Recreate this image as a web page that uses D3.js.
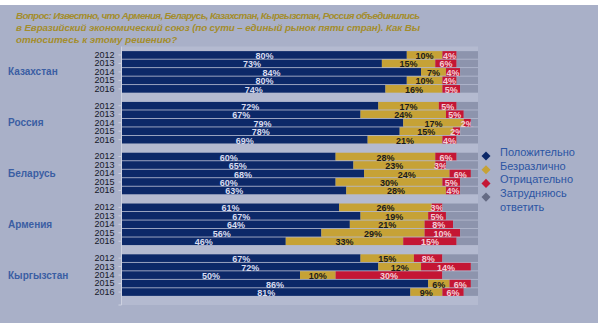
<!DOCTYPE html>
<html>
<head>
<meta charset="utf-8">
<script src="https://cdn.jsdelivr.net/npm/d3@7"></script>
<style>
    html, body { margin: 0; padding: 0; background: #fff; }
    svg { display: block; }
    text { font-family: "Liberation Sans", Arial, sans-serif; }
</style>
</head>
<body>
<script>
// Survey answers by country and year, percent
var countries = ['Казахстан', 'Россия', 'Беларусь', 'Армения', 'Кыргызстан'];
var years = ['2012', '2013', '2014', '2015', '2016'];
var positive = [[80, 73, 84, 80, 74], [72, 67, 79, 78, 69], [60, 65, 68, 60, 63], [61, 67, 64, 56, 46], [67, 72, 50, 86, 81]];
var neutral = [[10, 15, 7, 10, 16], [17, 24, 17, 15, 21], [28, 23, 24, 30, 28], [26, 19, 21, 29, 33], [15, 12, 10, 6, 9]];
var negative = [[4, 6, 4, 4, 5], [5, 5, 2, 2, 4], [6, 3, 6, 5, 4], [3, 5, 8, 10, 15], [8, 14, 30, 6, 6]];
var undecided = [[6, 6, 5, 6, 5], [6, 4, 2, 5, 6], [6, 9, 2, 5, 5], [10, 9, 7, 5, 6], [10, 2, 10, 2, 4]];
var answerKeys = ['positive', 'neutral', 'negative', 'undecided'];
var answerNames = ['Положительно', 'Безразлично', 'Отрицательно', 'Затрудняюсь ответить'];
var titleLines = [
    'Вопрос: Известно, что Армения, Беларусь, Казахстан, Кыргызстан, Россия объединились',
    'в Евразийский экономический союз (по сути – единый рынок пяти стран). Как Вы',
    'относитесь к этому решению?'
];

var w = 600, h = 323;
var colors = {positive: '#0c2868', neutral: '#c6a236', negative: '#c41634', undecided: '#8d94ad'};
var labelColors = {positive: '#d9ddf0', neutral: '#1b1b1b', negative: '#f3cdd6'};

var svg = d3.select('body').append('svg')
    .attr('width', w)
    .attr('height', h);

// background panel
svg.append('rect').attr('x', 0).attr('y', 5).attr('width', 598).attr('height', h - 5).attr('fill', '#a9b0c8');

// title
var title = svg.append('g')
    .attr('fill', '#a48d2c')
    .style('font-size', '9.8px')
    .style('font-weight', 'bold')
    .style('font-style', 'italic');
titleLines.forEach(function (line, i) {
    var t = title.append('text')
        .attr('x', 16)
        .attr('y', 18.5 + i * 12.3)
        .text(line);
    if (i < titleLines.length - 1) {
        t.attr('textLength', 404).attr('lengthAdjust', 'spacing');
    }
});

// rows: one per country/year
var rows = [];
countries.forEach(function (c, ci) {
    years.forEach(function (y, yi) {
        rows.push({
            country: c, year: y,
            positive: positive[ci][yi],
            neutral: neutral[ci][yi],
            negative: negative[ci][yi],
            undecided: undecided[ci][yi]
        });
    });
});

var x = d3.scaleLinear().domain([0, 100]).range([122, 478]);
var yGroup = d3.scaleBand().domain(countries).range([46.5, 300.5]);
var yYear = d3.scaleBand().domain(years).range([4.2, 46.6]).paddingInner(0.1).paddingOuter(0.05);

function rowY(d) {
    return yGroup(d.country) + yYear(d.year);
}

// plot area
svg.append('rect')
    .attr('x', x(0)).attr('y', 46.5)
    .attr('width', x(100) - x(0)).attr('height', 258.5)
    .attr('fill', '#b4bad0');

var series = d3.stack().keys(answerKeys)(rows);

var layers = svg.selectAll('.layer')
    .data(series)
    .enter()
    .append('g')
    .attr('class', 'layer')
    .attr('fill', function (s) { return colors[s.key]; });

layers.selectAll('rect')
    .data(function (s) { return s; })
    .enter()
    .append('rect')
    .attr('x', function (d) { return x(d[0]); })
    .attr('y', function (d) { return rowY(d.data); })
    .attr('width', function (d) { return x(d[1]) - x(d[0]); })
    .attr('height', yYear.bandwidth());

// value labels (no label on the undecided part)
layers.filter(function (s) { return s.key !== 'undecided'; })
    .selectAll('text')
    .data(function (s) {
        return s.map(function (d) { return {d: d, key: s.key}; });
    })
    .enter()
    .append('text')
    .attr('x', function (o) { return (x(o.d[0]) + x(o.d[1])) / 2; })
    .attr('y', function (o) { return rowY(o.d.data) + yYear.bandwidth() / 2 + 4; })
    .attr('text-anchor', 'middle')
    .attr('fill', function (o) { return labelColors[o.key]; })
    .style('font-size', '9px')
    .style('font-weight', 'bold')
    .text(function (o) { return o.d.data[o.key] + '%'; });

// left axis: main line, year ticks and country names
svg.append('line')
    .attr('x1', 121.5).attr('x2', 121.5)
    .attr('y1', 46.5).attr('y2', 305)
    .attr('stroke', '#cdd1e0');
svg.append('line')
    .attr('x1', 118.5).attr('x2', 121.5)
    .attr('y1', 305).attr('y2', 305)
    .attr('stroke', '#cdd1e0');

countries.forEach(function (c) {
    var g = svg.append('g')
        .attr('transform', 'translate(121.5,' + yGroup(c) + ')')
        .call(d3.axisLeft(yYear).tickSize(3).tickPadding(4));
    g.select('.domain').remove();
    g.selectAll('.tick line').attr('stroke', '#cdd1e0');
    g.selectAll('.tick text')
        .attr('fill', '#15182a')
        .style('font-family', '"Liberation Sans", Arial, sans-serif')
        .style('font-size', '9px');

    svg.append('text')
        .attr('x', 8)
        .attr('y', yGroup(c) + 25.4)
        .attr('dy', '0.35em')
        .attr('fill', '#3b5ea3')
        .style('font-size', '10px')
        .style('font-weight', 'bold')
        .text(c);
});

// legend
var legend = svg.append('g').attr('transform', 'translate(486,156)');
answerKeys.forEach(function (k, i) {
    var item = legend.append('g').attr('transform', 'translate(0,' + (i * 13.7) + ')');
    item.append('rect')
        .attr('x', -3.2).attr('y', -3.2)
        .attr('width', 6.4).attr('height', 6.4)
        .attr('transform', 'rotate(45)')
        .attr('fill', k === 'undecided' ? '#656b84' : colors[k]);
    var words = answerNames[i].split(' ');
    var t = item.append('text')
        .attr('x', 14)
        .attr('y', 0)
        .attr('dy', '0.35em')
        .attr('fill', '#2c55a3')
        .style('font-size', '11px');
    words.forEach(function (wd, j) {
        t.append('tspan')
            .attr('x', 14)
            .attr('dy', j === 0 ? 0 : 13.7)
            .text(wd);
    });
});
</script>
</body>
</html>
